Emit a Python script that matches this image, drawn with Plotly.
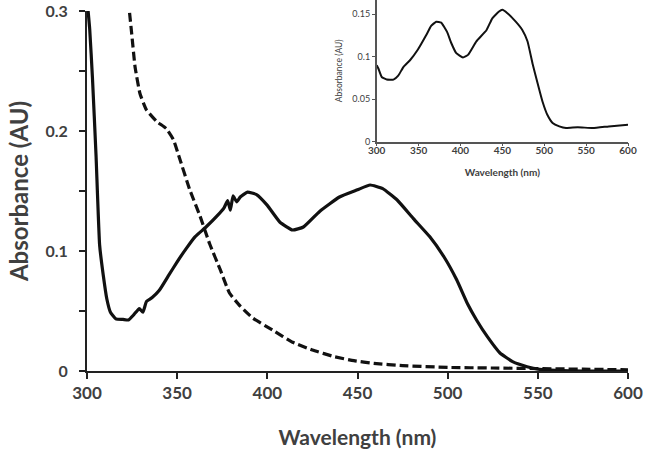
import plotly.graph_objects as go

# ---- main chart data ----
solid_nm = [300, 301.5, 303, 305, 307, 309, 311, 313, 316, 320, 323, 326, 329, 331, 333, 336, 340,
            345, 350, 355, 360, 366, 372, 376, 378, 379.5, 381, 383, 385, 389, 394, 400, 407, 414,
            420, 429, 440, 450, 457, 464, 472, 481, 490, 498, 505, 511, 516, 522, 529, 536, 544,
            551, 560, 575, 600]
solid_abs = [0.31, 0.285, 0.245, 0.18, 0.105, 0.08, 0.06, 0.049, 0.0435, 0.043, 0.0425, 0.047, 0.052,
             0.049, 0.058, 0.061, 0.067, 0.079, 0.091, 0.102, 0.112, 0.120, 0.129, 0.136, 0.142,
             0.134, 0.146, 0.141, 0.145, 0.149, 0.147, 0.138, 0.124, 0.1175, 0.120, 0.133, 0.145,
             0.151, 0.155, 0.152, 0.1425, 0.127, 0.112, 0.095, 0.076, 0.056, 0.0425, 0.0286, 0.015,
             0.0078, 0.0036, 0.0014, 0.0005, 0.0, 0.0]

dashed_nm = [322, 323.5, 324.8, 326.6, 329.4, 333, 338.6, 344, 348, 351.6, 357, 362.7, 368, 374, 379,
             385, 392, 403, 414, 425, 437, 448, 459, 475, 500, 525, 550, 575, 600]
dashed_abs = [0.32, 0.30, 0.281, 0.254, 0.231, 0.2175, 0.208, 0.202, 0.1925, 0.176, 0.151, 0.129,
              0.106, 0.084, 0.065, 0.054, 0.044, 0.034, 0.024, 0.0175, 0.012, 0.0086, 0.0064,
              0.0045, 0.003, 0.0025, 0.002, 0.0015, 0.001]

# ---- inset data ----
inset_nm = [300, 302, 306, 312, 320, 326, 332, 340, 349, 359, 365, 371, 377, 384, 389, 395, 403, 409,
            419, 431, 438, 446, 450, 456, 466, 474, 480, 486, 492, 498, 504, 510, 518, 526, 540,
            558, 577, 600]
inset_abs = [0.090, 0.086, 0.076, 0.073, 0.073, 0.078, 0.088, 0.096, 0.108, 0.125, 0.136, 0.141,
             0.140, 0.129, 0.116, 0.104, 0.099, 0.102, 0.118, 0.131, 0.145, 0.153, 0.155, 0.151,
             0.141, 0.131, 0.118, 0.092, 0.069, 0.047, 0.031, 0.022, 0.018, 0.016, 0.017, 0.016,
             0.018, 0.020]

x_ticks = [300, 350, 400, 450, 500, 550, 600]
main_y_ticks = [0, 0.1, 0.2, 0.3]
main_y_labels = ["0", "0.1", "0.2", "0.3"]
inset_y_ticks = [0, 0.05, 0.1, 0.15]
inset_y_labels = ["0", "0.05", "0.1", "0.15"]

FONT = "Lato"
TXT = "#404040"
LINE = "#111111"

fig = go.Figure()
fig.add_trace(go.Scatter(x=solid_nm, y=solid_abs, mode="lines",
                         line=dict(color=LINE, width=3.2, shape="spline", smoothing=0.4),
                         xaxis="x", yaxis="y", showlegend=False))
fig.add_trace(go.Scatter(x=dashed_nm, y=dashed_abs, mode="lines",
                         line=dict(color=LINE, width=3.2, dash="9px,4px", shape="spline",
                                   smoothing=0.4),
                         xaxis="x", yaxis="y", showlegend=False))
fig.add_trace(go.Scatter(x=inset_nm, y=inset_abs, mode="lines",
                         line=dict(color=LINE, width=2, shape="spline", smoothing=0.4),
                         xaxis="x2", yaxis="y2", showlegend=False))

H_PLOT = 371.0
fig.update_layout(
    width=645, height=452,
    margin=dict(l=87, r=17, t=0, b=81, autoexpand=False),
    paper_bgcolor="white", plot_bgcolor="white",
    font=dict(family=FONT, color=TXT),
    xaxis=dict(domain=[0, 1], range=[300, 600], tickvals=x_ticks, ticks="outside", ticklen=6,
               tickwidth=2, tickcolor="#222", showline=True, linecolor="#222", linewidth=2,
               showgrid=False, zeroline=False, anchor="y", automargin=False,
               tickfont=dict(family=FONT, size=17, color=TXT, weight="bold"),
               title=dict(text="Wavelength (nm)", standoff=28,
                          font=dict(family=FONT, size=21, color=TXT, weight="bold"))),
    yaxis=dict(domain=[0, 360 / H_PLOT], range=[0, 0.3], tickvals=main_y_ticks,
               ticktext=main_y_labels, ticks="outside", ticklen=6, tickwidth=2, tickcolor="#222",
               minor=dict(dtick=0.05, ticks="outside", ticklen=6, tickwidth=2, tickcolor="#222"),
               showline=True, linecolor="#222", linewidth=2, showgrid=False, zeroline=False,
               anchor="x", ticklabelstandoff=8, automargin=False,
               tickfont=dict(family=FONT, size=16, color=TXT, weight="bold"),
               title=dict(text="Absorbance (AU)", standoff=10,
                          font=dict(family=FONT, size=24, color=TXT, weight="bold"))),
    xaxis2=dict(domain=[(376.7 - 87) / 541, 1], range=[300, 600], tickvals=x_ticks,
                ticks="outside", ticklen=3, tickwidth=1, tickcolor="#555", showline=True,
                linecolor="#555", linewidth=1.5, showgrid=False, zeroline=False, anchor="y2",
                automargin=False, ticklabelstandoff=-4,
                tickfont=dict(family=FONT, size=10, color=TXT, weight="bold"),
                title=dict(text="Wavelength (nm)", standoff=14,
                           font=dict(family=FONT, size=10, color=TXT, weight="bold"))),
    yaxis2=dict(domain=[(H_PLOT - 141.7) / H_PLOT, 1], range=[0, 0.1665],
                tickvals=inset_y_ticks, ticktext=inset_y_labels, ticks="outside", ticklen=3,
                tickwidth=1, tickcolor="#555", showline=True, linecolor="#555", linewidth=1.5,
                showgrid=False, zeroline=False, anchor="x2", automargin=False,
                tickfont=dict(family=FONT, size=9, color=TXT),
                title=dict(text="Absorbance (AU)", standoff=8,
                           font=dict(family=FONT, size=8.5, color=TXT))),
)

fig.write_html("out.html", config={"displayModeBar": False},
               post_script="document.body.style.margin='0px';")
